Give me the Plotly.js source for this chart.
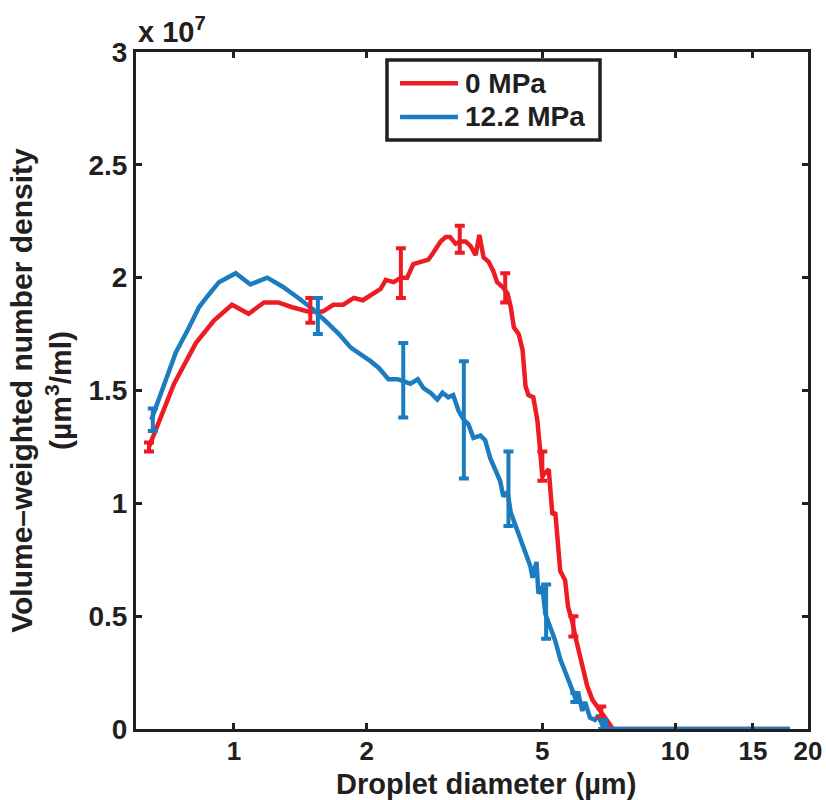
<!DOCTYPE html>
<html>
<head>
<meta charset="utf-8">
<script src="https://cdn.plot.ly/plotly-3.0.1.min.js"></script>
<style>html,body{margin:0;padding:0;background:#fff;}#chart{width:826px;height:800px;}</style>
</head>
<body>
<div id="chart"></div>
<script>
// Droplet diameter (µm) and volume-weighted number density (units of 1e7 µm^3/ml)
const redName = "0 MPa";
const blueName = "12.2 MPa";
const xTitle = "Droplet diameter (µm)";
const yTitle = "Volume\u2013weighted number density<br>(µm<sup>3</sup>/ml)";

const redX = [0.642, 0.732, 0.820, 0.901, 0.99, 1.08, 1.17, 1.26, 1.35, 1.47,
  1.59, 1.68, 1.77, 1.87, 1.96, 2.04, 2.15, 2.21, 2.30, 2.39,
  2.47, 2.55, 2.65, 2.76, 2.83, 2.94, 3.02, 3.09, 3.18, 3.26,
  3.35, 3.44, 3.53, 3.60, 3.68, 3.78, 3.87, 3.95, 4.06, 4.17,
  4.24, 4.31, 4.42, 4.51, 4.58, 4.65, 4.77, 4.87, 4.93, 5.0,
  5.10, 5.17, 5.27, 5.35, 5.49, 5.63, 5.72, 5.84, 5.94, 6.03,
  6.19, 6.32, 6.49, 6.70, 6.87, 7.05, 7.23, 8, 10, 12,
  15, 18.2];
const redY = [1.25, 1.53, 1.71, 1.81, 1.88, 1.84, 1.89, 1.89, 1.87, 1.85,
  1.85, 1.88, 1.88, 1.91, 1.90, 1.92, 1.95, 1.99, 1.98, 2.00,
  2.00, 2.06, 2.07, 2.08, 2.11, 2.16, 2.18, 2.18, 2.15, 2.16,
  2.16, 2.14, 2.10, 2.19, 2.09, 2.07, 2.03, 1.98, 1.96, 1.93,
  1.87, 1.78, 1.75, 1.68, 1.52, 1.48, 1.47, 1.37, 1.26, 1.12,
  1.14, 1.15, 0.95, 0.96, 0.70, 0.66, 0.54, 0.48, 0.41, 0.36,
  0.27, 0.19, 0.13, 0.09, 0.06, 0.03, 0, 0, 0, 0,
  0, 0];

const blueX = [0.65, 0.694, 0.739, 0.787, 0.834, 0.873, 0.925, 1.01, 1.09, 1.19,
  1.29, 1.40, 1.51, 1.63, 1.73, 1.84, 1.94, 2.04, 2.13, 2.24,
  2.35, 2.42, 2.51, 2.61, 2.69, 2.79, 2.89, 2.97, 3.06, 3.14,
  3.23, 3.32, 3.40, 3.49, 3.62, 3.71, 3.81, 3.91, 4.01, 4.08,
  4.17, 4.24, 4.35, 4.47, 4.58, 4.70, 4.75, 4.85, 4.90, 5.0,
  5.08, 5.21, 5.35, 5.49, 5.63, 5.78, 5.88, 5.96, 6.03, 6.16,
  6.25, 6.41, 6.58, 6.70, 6.83, 6.93, 7.05, 8, 10, 12,
  15, 18.2];
const blueY = [1.37, 1.53, 1.67, 1.77, 1.87, 1.92, 1.98, 2.02, 1.97, 2.00,
  1.96, 1.91, 1.86, 1.80, 1.75, 1.69, 1.66, 1.63, 1.60, 1.55,
  1.55, 1.54, 1.53, 1.55, 1.51, 1.49, 1.46, 1.49, 1.47, 1.48,
  1.41, 1.37, 1.35, 1.29, 1.30, 1.28, 1.20, 1.15, 1.10, 1.03,
  1.05, 0.96, 0.90, 0.84, 0.78, 0.72, 0.67, 0.74, 0.60, 0.63,
  0.51, 0.45, 0.39, 0.31, 0.25, 0.19, 0.16, 0.13, 0.16, 0.08,
  0.12, 0.05, 0.04, 0.06, 0.02, 0.03, 0, 0, 0, 0,
  0, 0];

// Error bars (low / high limits)
const redErrX  = [0.642, 1.49, 2.39, 3.25, 4.12, 5.0, 5.88, 6.80];
const redErrLo = [1.23, 1.80, 1.91, 2.11, 1.89, 1.10, 0.41, 0.05];
const redErrHi = [1.27, 1.91, 2.13, 2.23, 2.02, 1.23, 0.50, 0.10];

const blueErrX  = [0.655, 1.55, 2.42, 3.32, 4.19, 5.10, 5.94, 6.87];
const blueErrLo = [1.32, 1.75, 1.38, 1.11, 0.90, 0.40, 0.12, 0.00];
const blueErrHi = [1.42, 1.91, 1.71, 1.63, 1.23, 0.64, 0.16, 0.04];

const xTickVals = [1, 2, 5, 10, 15, 20];
const xTickText = ["1", "2", "5", "10", "15", "20"];
const yTickVals = [0, 0.5, 1, 1.5, 2, 2.5, 3];
const yTickText = ["0", "0.5", "1", "1.5", "2", "2.5", "3"];

const RED = "#ED1C24";
const BLUE = "#1B7DC0";
const INK = "#231F20";
const FONT = "Liberation Sans, Arial, Helvetica, sans-serif";

function errTrace(xs, lo, hi, color) {
  const mid = xs.map((_, i) => (lo[i] + hi[i]) / 2);
  const half = xs.map((_, i) => (hi[i] - lo[i]) / 2);
  return {
    x: xs, y: mid, type: "scatter", mode: "markers",
    marker: {size: 1, color: color, opacity: 0},
    error_y: {type: "data", array: half, visible: true, color: color, thickness: 4, width: 5},
    showlegend: false, hoverinfo: "skip"
  };
}

const traces = [
  {x: redX, y: redY, type: "scatter", mode: "lines", name: redName,
   line: {color: RED, width: 4.5}, showlegend: false},
  {x: blueX, y: blueY, type: "scatter", mode: "lines", name: blueName,
   line: {color: BLUE, width: 4.5}, showlegend: false},
  errTrace(redErrX, redErrLo, redErrHi, RED),
  errTrace(blueErrX, blueErrLo, blueErrHi, BLUE)
];

// Legend drawn in paper coordinates
const legBox = {x0: 0.3735, x1: 0.6905, y0: 0.870, y1: 0.988};
const legLineX = [0.3929, 0.4792];
const legRowY = [0.954, 0.904];
const legTextX = 0.4866;

const titleFont = {family: FONT, size: 30, weight: "bold", color: INK};

const layout = {
  width: 826, height: 800,
  margin: {l: 136, r: 18, t: 52, b: 71},
  paper_bgcolor: "#fff", plot_bgcolor: "#fff",
  font: {family: FONT, color: INK, weight: "bold"},
  showlegend: false,
  xaxis: {
    type: "log", range: [Math.log10(0.6), Math.log10(20)],
    tickvals: xTickVals, ticktext: xTickText,
    ticks: "inside", ticklen: 6, tickwidth: 3, tickcolor: INK,
    showline: true, linewidth: 3, linecolor: INK, mirror: "ticks",
    showgrid: false, zeroline: false, ticklabelstandoff: -3,
    tickfont: {family: FONT, size: 26, weight: "bold", color: INK}
  },
  yaxis: {
    range: [0, 3],
    tickvals: yTickVals, ticktext: yTickText,
    ticks: "inside", ticklen: 6, tickwidth: 3, tickcolor: INK,
    showline: true, linewidth: 3, linecolor: INK, mirror: "ticks",
    showgrid: false, zeroline: false,
    tickfont: {family: FONT, size: 28, weight: "bold", color: INK},
    title: {text: yTitle, font: titleFont, standoff: 8}
  },
  shapes: [
    {type: "rect", xref: "paper", yref: "paper", x0: legBox.x0, x1: legBox.x1, y0: legBox.y0, y1: legBox.y1,
     line: {color: INK, width: 3.5}, fillcolor: "#fff", layer: "above"},
    {type: "line", xref: "paper", yref: "paper", x0: legLineX[0], x1: legLineX[1], y0: legRowY[0], y1: legRowY[0],
     line: {color: RED, width: 4.5}},
    {type: "line", xref: "paper", yref: "paper", x0: legLineX[0], x1: legLineX[1], y0: legRowY[1], y1: legRowY[1],
     line: {color: BLUE, width: 4.5}}
  ],
  annotations: [
    {xref: "paper", yref: "paper", x: 0, y: 1, xanchor: "left", yanchor: "bottom",
     text: "x 10<sup>7</sup>", showarrow: false, yshift: 2,
     font: {family: FONT, size: 29, weight: "bold", color: INK}},
    {xref: "paper", yref: "paper", x: 0.521, y: -0.0815, xanchor: "center", yanchor: "middle",
     text: xTitle, showarrow: false, font: {family: FONT, size: 29, weight: "bold", color: INK}},
    {xref: "paper", yref: "paper", x: legTextX, y: legRowY[0], xanchor: "left", yanchor: "middle",
     text: redName, showarrow: false, font: {family: FONT, size: 28, weight: "bold", color: INK}},
    {xref: "paper", yref: "paper", x: legTextX, y: legRowY[1], xanchor: "left", yanchor: "middle",
     text: blueName, showarrow: false, font: {family: FONT, size: 28, weight: "bold", color: INK}}
  ]
};

Plotly.newPlot("chart", traces, layout, {displayModeBar: false, staticPlot: true});
</script>
</body>
</html>
